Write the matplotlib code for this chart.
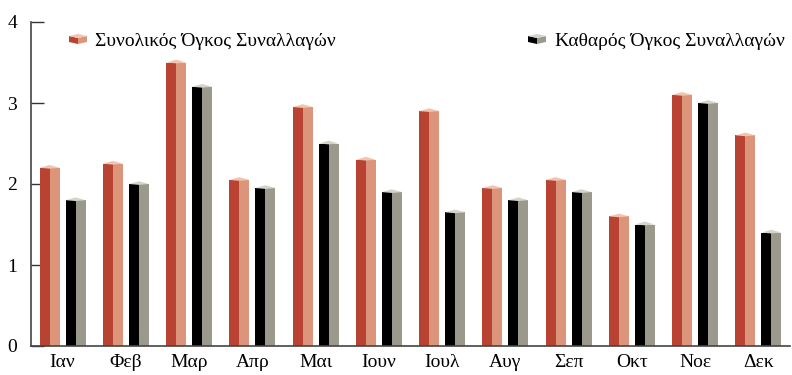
import matplotlib
matplotlib.use("Agg")
import matplotlib.pyplot as plt
import numpy as np
from matplotlib.patches import Polygon

plt.rcParams['font.family'] = ['Liberation Serif', 'DejaVu Serif']

months = ["Ιαν", "Φεβ", "Μαρ", "Απρ", "Μαι", "Ιουν", "Ιουλ", "Αυγ", "Σεπ", "Οκτ", "Νοε", "Δεκ"]
total_volume = [2.2, 2.25, 3.5, 2.05, 2.95, 2.3, 2.9, 1.95, 2.05, 1.6, 3.1, 2.6]
net_volume = [1.8, 2.0, 3.2, 1.95, 2.5, 1.9, 1.65, 1.8, 1.9, 1.5, 3.0, 1.4]
series_names = ["Συνολικός Όγκος Συναλλαγών", "Καθαρός Όγκος Συναλλαγών"]

# (dark face, light face, top cap)
palettes = [("#b84333", "#dc957a", "#f2c3ae"),
            ("#000000", "#9a998b", "#d4d4cb")]

BAR_W = 0.316
OFFSET = 0.205
CAP_H = 0.035


def draw_prism(ax, xc, value, colors):
    dark, light, cap = colors
    x0, x1 = xc - BAR_W / 2, xc + BAR_W / 2
    ax.bar(x0, value, width=BAR_W / 2, align="edge", color=dark, linewidth=0, zorder=2)
    ax.bar(xc, value, width=BAR_W / 2, align="edge", color=light, linewidth=0, zorder=2)
    ax.add_patch(Polygon([(x0, value), (xc, value + CAP_H), (x1, value), (xc, value - CAP_H * 0.3)],
                         closed=True, facecolor=cap, edgecolor="none", zorder=3))


fig = plt.figure(figsize=(7.92, 3.75), dpi=100)
ax = fig.add_axes([31 / 792, 29 / 375, 759 / 792, 324 / 375])

x = np.arange(len(months))
for i in x:
    draw_prism(ax, i - OFFSET, total_volume[i], palettes[0])
    draw_prism(ax, i + OFFSET, net_volume[i], palettes[1])

ax.set_xlim(-0.5, len(months) - 0.5)
ax.set_ylim(0, 4)
ax.set_yticks([0, 1, 2, 3, 4])
ax.set_xticks(x)
ax.set_xticklabels(months, fontsize=14)
ax.tick_params(axis="y", direction="in", length=9, width=1, colors="#333333", labelsize=14,
               labelcolor="black", pad=10)
ax.tick_params(axis="x", length=0, pad=6)
for side in ("top", "right"):
    ax.spines[side].set_visible(False)
for side in ("left", "bottom"):
    ax.spines[side].set_color("#444444")
    ax.spines[side].set_linewidth(1.2)


def legend_icon(fx, fy, colors):
    # small isometric box drawn in pixel coordinates of the figure
    dark, light, cap = colors
    w, h, d = 9, 6, 4
    to_fig = lambda pts: [(px / 792, 1 - py / 375) for px, py in pts]
    front = [(fx, fy), (fx + w, fy + 2), (fx + w, fy + 2 + h), (fx, fy + h)]
    side = [(fx + w, fy + 2), (fx + 2 * w, fy), (fx + 2 * w, fy + h), (fx + w, fy + 2 + h)]
    top = [(fx, fy), (fx + w, fy - d + 2), (fx + 2 * w, fy), (fx + w, fy + 2)]
    for pts, c in ((front, dark), (side, light), (top, cap)):
        fig.patches.append(Polygon(to_fig(pts), closed=True, facecolor=c, edgecolor="none",
                                   transform=fig.transFigure, figure=fig))


legend_icon(69, 36, palettes[0])
fig.text(95 / 792, 1 - 41 / 375, series_names[0], fontsize=14, va="center", ha="left")
legend_icon(528, 36, palettes[1])
fig.text(555 / 792, 1 - 41 / 375, series_names[1], fontsize=14, va="center", ha="left")

fig.savefig("out.png", dpi=100)
